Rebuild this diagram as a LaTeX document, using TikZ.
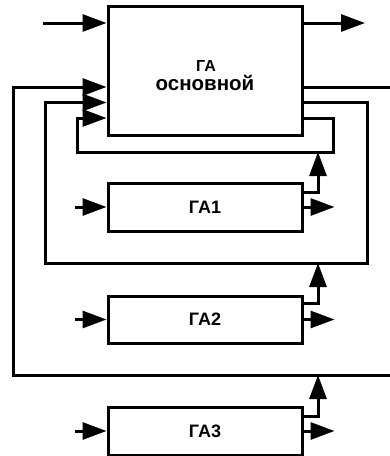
\documentclass[tikz,border=0pt]{standalone}
\usepackage{fontspec}
\setmainfont{Liberation Sans}
\usetikzlibrary{arrows.meta,positioning}

\begin{document}
\begin{tikzpicture}[x=1pt,y=-1pt,line join=miter,
  block/.style={draw,line width=3pt,minimum width=194pt,inner sep=0pt,font=\bfseries\fontsize{18}{18}\selectfont},
  wire/.style={line width=3pt},
  feed/.style={wire,-{Triangle[length=24pt,width=17pt]}}]
  \useasboundingbox (0,0) rectangle (390,456);

  \node[block,minimum height=129pt] (main) at (205,70.5) {};
  \node[block,minimum height=48pt] (ga1) at (205,207) {ГА1};
  \node[block,minimum height=47pt] (ga2) at (205,319.5) {ГА2};
  \node[block,minimum height=48pt] (ga3) at (205,431) {ГА3};
  \node[anchor=base,inner sep=0pt,font=\bfseries\fontsize{16}{16}\selectfont] (maintitle) at (206,71) {ГА};
  \node[anchor=base,inner sep=0pt,font=\bfseries\fontsize{20.5}{20.5}\selectfont] (mainsub) at (205,90.5) {основной};

  % rows on the main block
  \coordinate (rowC) at (0,87);
  \coordinate (rowB) at (0,102.5);
  \coordinate (rowA) at (0,118);
  \coordinate (in0) at (43,23);
  \coordinate (out0) at (365,23);
  \draw[feed] (in0) -- (in0 -| main.west);
  \draw[feed] (out0 -| main.east) -- (out0);

  % feedback loops
  \coordinate (loopA) at (333,152);
  \coordinate (loopB) at (367,263);
  \coordinate (tapA) at (318,152);
  \coordinate (tapB) at (318,263);
  \coordinate (tapC) at (318,375);
  \coordinate (edgeC) at (390,375);
  \draw[feed] (main.east |- rowA) -| (loopA) -| (77,118) -- (main.west |- rowA);
  \draw[feed] (main.east |- rowB) -| (loopB) -| (45,102.5) -- (main.west |- rowB);
  \draw[wire] (main.east |- rowC) -- (rowC -| edgeC);
  \draw[feed] (edgeC) -| (13,87) -- (main.west |- rowC);

  % taps from the small blocks
  \draw[feed] ([yshift=15pt]ga1.east) -| (tapA);
  \draw[feed] ([yshift=16.5pt]ga2.east) -| (tapB);
  \draw[feed] ([yshift=15pt]ga3.east) -| (tapC);

  % inputs and outputs of the small blocks
  \foreach \b in {ga1,ga2,ga3}{
    \draw[feed] ([xshift=-32pt]\b.west) -- (\b.west);
    \draw[feed] (\b.east) -- ([xshift=31pt]\b.east);
  }
\end{tikzpicture}
\end{document}
